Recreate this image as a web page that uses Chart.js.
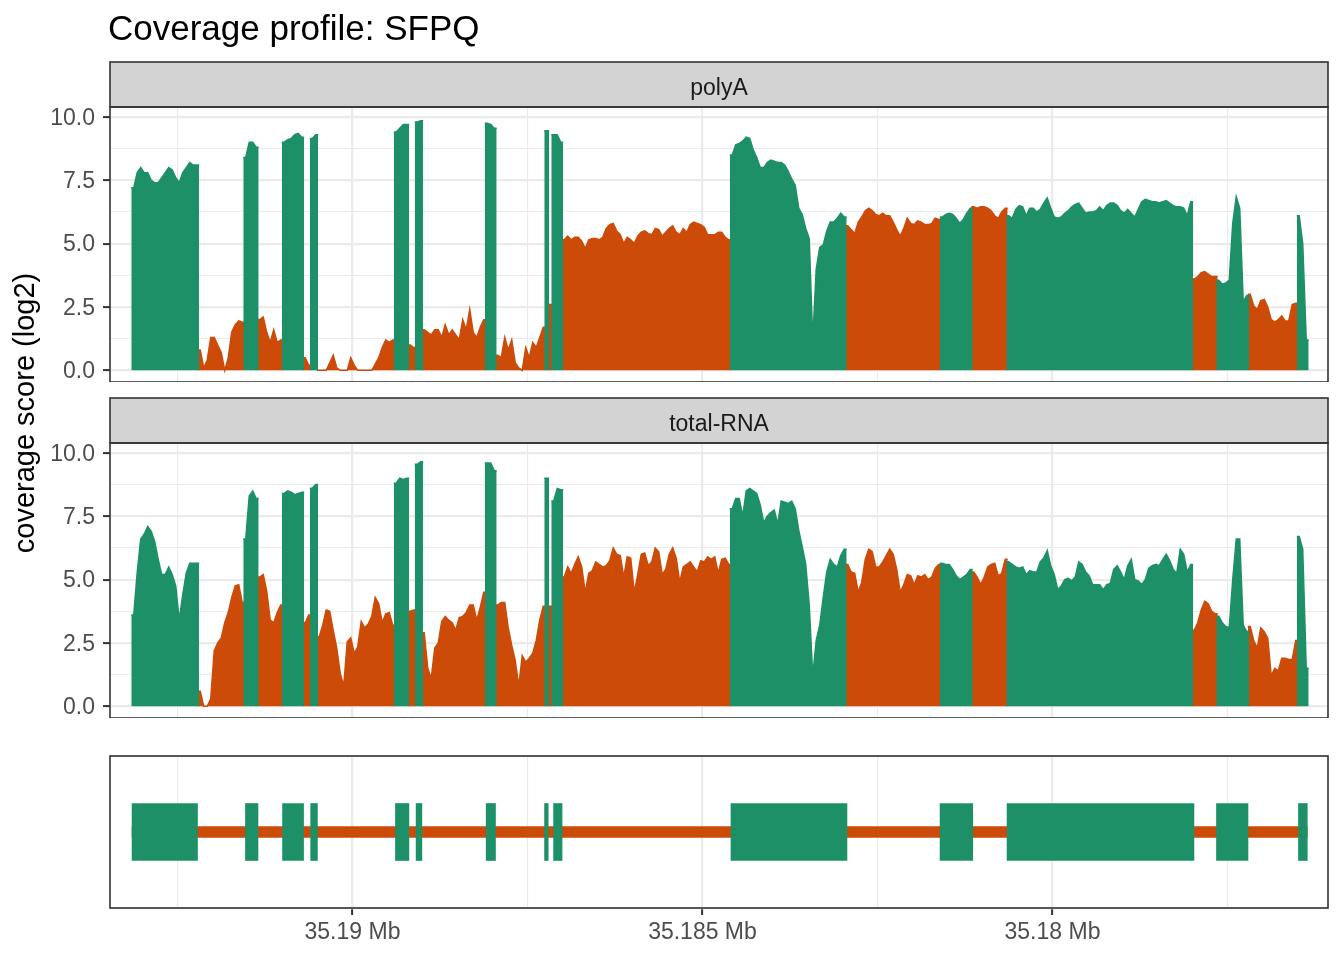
<!DOCTYPE html>
<html>
<head>
<meta charset="utf-8">
<title>Coverage profile: SFPQ</title>
<script src="https://cdn.jsdelivr.net/npm/chart.js@4.4.1/dist/chart.umd.min.js"></script>
<style>
  html, body { margin: 0; padding: 0; background: #fff; }
  #page { position: relative; width: 1344px; height: 960px; overflow: hidden; }
  #page canvas { position: absolute; left: 0; }
  #ylab {
    position: absolute; left: -175px; top: 396px; width: 400px; height: 34px;
    line-height: 34px; text-align: center; white-space: nowrap;
    font: 29px 'Liberation Sans', Arial, Helvetica, sans-serif; color: #000;
    transform: rotate(-90deg);
  }
</style>
</head>
<body>
<div id="page">
  <canvas id="ct_polyA" width="1344" height="382" style="top:0px"></canvas>
  <canvas id="ct_total" width="1344" height="336" style="top:382px"></canvas>
  <canvas id="ct_gene" width="1344" height="242" style="top:718px"></canvas>
  <div id="ylab">coverage score (log2)</div>
</div>
<script>
// coverage in fixed 50 bp bins, listed left to right as drawn (genomic position decreasing)
const binSize = 50;
const firstBinCentre = 35193125;

const polyA = [
  7.2, 7.8, 8.0, 7.8, 7.8, 7.5, 7.4, 7.4, 7.6, 7.8,
  8.0, 7.9, 7.6, 7.4, 7.8, 8.0, 8.2, 8.1, 8.1, 0.8,
  0.1, 0.4, 1.3, 1.3, 1.0, 0.7, 0.0, 0.5, 1.5, 1.8,
  1.95, 1.9, 8.4, 9.0, 9.0, 8.8, 2.0, 2.1, 1.5, 1.1,
  1.6, 1.1, 1.2, 9.0, 9.1, 9.15, 9.3, 9.35, 9.2, 0.5,
  0.2, 9.15, 9.3, 0, 0, 0, 0.3, 0.6, 0.1, 0,
  0, 0, 0.5, 0.2, 0, 0, 0, 0, 0, 0.25,
  0.5, 0.9, 1.2, 1.1, 1.2, 9.4, 9.55, 9.7, 9.7, 1.0,
  0.9, 9.8, 9.85, 1.6, 1.5, 1.4, 1.6, 1.6, 1.3, 1.8,
  1.4, 1.6, 1.4, 1.2, 2.0, 1.6, 2.4, 1.5, 1.3, 1.7,
  2.0, 9.75, 9.7, 9.55, 0.6, 0.5, 1.3, 0.8, 1.2, 0.3,
  0.1, 0, 0.9, 0.5, 1.1, 0.9, 1.3, 1.7, 9.45, 2.6,
  9.3, 9.3, 9.0, 5.15, 5.3, 5.15, 5.25, 5.25, 5.1, 4.8,
  5.15, 5.2, 5.2, 5.15, 5.25, 5.6, 5.75, 5.8, 5.5, 5.35,
  5.0, 5.25, 5.15, 5.0, 5.3, 5.45, 5.5, 5.4, 5.35, 5.6,
  5.55, 5.3, 5.45, 5.6, 5.7, 5.45, 5.35, 5.6, 5.45, 5.75,
  5.85, 5.8, 5.75, 5.65, 5.35, 5.35, 5.35, 5.45, 5.45, 5.25,
  5.15, 8.5, 8.9, 8.95, 9.05, 9.2, 9.15, 8.7, 8.4, 8.0,
  8.0, 8.2, 8.3, 8.25, 8.2, 8.2, 8.1, 7.85, 7.55, 7.3,
  6.4, 6.15, 5.6, 5.2, 1.2, 4.0, 4.85, 4.95, 5.5, 5.85,
  5.85, 6.0, 6.2, 6.05, 5.7, 5.55, 5.4, 5.85, 6.05, 6.3,
  6.4, 6.3, 6.15, 6.1, 6.2, 6.1, 6.1, 5.85, 5.55, 5.3,
  5.6, 6.0, 5.8, 5.75, 5.9, 5.85, 5.75, 5.75, 5.8, 6.0,
  5.95, 6.05, 6.15, 6.2, 6.15, 6.0, 5.8, 5.95, 6.2, 6.4,
  6.45, 6.4, 6.45, 6.45, 6.4, 6.3, 6.1, 6.0, 6.25, 6.4,
  6.1, 6.0, 6.35, 6.5, 6.45, 6.1, 6.4, 6.4, 6.25, 6.35,
  6.6, 6.8, 6.4, 6.05, 6.0, 6.05, 6.2, 6.3, 6.45, 6.55,
  6.6, 6.4, 6.2, 6.25, 6.25, 6.3, 6.45, 6.3, 6.5, 6.6,
  6.6, 6.5, 6.3, 6.2, 6.35, 6.2, 6.05, 6.35, 6.65, 6.75,
  6.7, 6.65, 6.65, 6.6, 6.65, 6.7, 6.6, 6.5, 6.45, 6.45,
  6.4, 6.1, 6.65, 3.6, 3.7, 3.85, 3.9, 3.8, 3.7, 3.7,
  3.55, 3.4, 3.45, 3.55, 5.8, 6.85, 6.4, 2.7, 2.95, 3.0,
  2.55, 2.4, 2.75, 2.8, 2.5, 2.0, 1.9, 2.0, 2.15, 1.95,
  1.95, 2.6, 2.65, 6.1, 5.0, 1.2
];

const totalRNA = [
  3.6, 5.3, 6.6, 6.8, 7.1, 6.9, 6.5, 5.8, 5.2, 5.2,
  5.5, 5.2, 4.75, 3.4, 4.4, 5.25, 5.65, 5.65, 5.65, 0.6,
  0, 0, 0.3, 2.2, 2.5, 2.7, 3.3, 3.7, 4.3, 4.75,
  4.8, 4.1, 6.6, 8.3, 8.5, 8.2, 5.1, 5.2, 4.55, 3.4,
  3.3, 3.7, 4.0, 8.4, 8.5, 8.45, 8.35, 8.4, 8.45, 3.3,
  3.6, 8.6, 8.75, 2.75, 3.2, 3.8, 3.75, 3.0, 2.3, 1.3,
  0.8, 2.55, 2.7, 2.1, 2.35, 3.35, 3.1, 3.25, 3.55, 4.3,
  4.05, 3.3, 3.65, 3.7, 3.2, 8.8, 9.0, 8.95, 9.0, 3.75,
  3.8, 9.55, 9.65, 2.9, 1.5, 1.1, 2.3, 2.5, 3.35, 3.55,
  3.4, 3.3, 3.0, 3.5, 3.55, 3.7, 4.0, 4.0, 3.4, 3.9,
  4.5, 9.6, 9.6, 9.3, 4.0, 4.1, 4.1, 3.1, 2.4, 1.8,
  0.8, 2.0, 1.75, 1.9, 2.1, 2.6, 3.4, 3.95, 9.0, 3.95,
  8.1, 8.6, 8.55, 5.1, 5.5, 5.25, 5.6, 5.9, 5.5, 4.5,
  5.25, 5.35, 5.7, 5.6, 5.5, 5.55, 5.75, 6.25, 6.0, 5.95,
  5.1, 5.9, 5.85, 4.5, 5.2, 6.0, 6.05, 5.55, 5.7, 6.25,
  6.1, 5.2, 5.4, 6.0, 6.25, 5.85, 4.9, 5.5, 5.6, 5.7,
  5.5, 5.3, 5.75, 5.7, 5.9, 5.8, 5.9, 5.25, 5.8, 5.85,
  5.6, 7.8, 8.2, 8.2, 7.5, 8.5, 8.6, 8.5, 8.4, 7.95,
  7.25, 7.5, 7.65, 7.75, 7.2, 8.1, 8.05, 8.0, 8.1, 7.8,
  6.95, 6.3, 5.6, 4.0, 1.2, 2.6, 3.2, 4.3, 5.3, 5.8,
  5.6, 5.5, 5.95, 6.2, 5.6, 5.3, 5.25, 4.5, 4.9, 5.8,
  6.2, 6.1, 5.5, 5.5, 5.7, 5.95, 6.2, 6.0, 5.4, 4.5,
  4.8, 5.2, 5.15, 4.8, 5.15, 5.1, 5.2, 5.0, 5.1, 5.45,
  5.6, 5.65, 5.6, 5.6, 5.4, 5.15, 5.0, 5.1, 5.2, 5.4,
  5.3, 5.1, 4.8, 5.1, 5.5, 5.6, 5.65, 5.15, 5.25, 5.8,
  5.7, 5.6, 5.5, 5.45, 5.5, 5.2, 5.35, 5.3, 5.3, 5.7,
  5.85, 6.15, 5.55, 5.2, 4.6, 4.75, 5.0, 5.05, 4.95, 5.1,
  5.7, 5.6, 5.3, 5.15, 4.8, 4.8, 4.8, 4.6, 4.8, 4.85,
  5.4, 5.55, 5.3, 5.0, 5.55, 5.8, 5.0, 4.95, 4.8, 5.0,
  5.45, 5.55, 5.6, 5.55, 5.8, 6.0, 5.75, 5.4, 5.25, 6.2,
  6.0, 5.3, 5.6, 3.0, 3.3, 3.8, 4.15, 4.05, 3.75, 3.65,
  3.55, 3.3, 3.15, 3.1, 5.0, 6.6, 6.6, 3.2, 2.95, 3.15,
  2.6, 2.3, 3.1, 2.95, 2.7, 1.2, 1.5, 1.4, 1.9, 1.9,
  1.85, 1.85, 2.6, 6.7, 6.2, 1.5
];

// SFPQ exons (bp), listed left to right as drawn
const exonStart = [35192214, 35191350, 35190699, 35190501, 35189194, 35189009, 35187957,
                   35187204, 35187006, 35182936, 35181139, 35177979, 35177207, 35176360];
const exonEnd   = [35193149, 35191529, 35190999, 35190597, 35189386, 35189091, 35188090,
                   35187256, 35187127, 35184593, 35181606, 35180649, 35177657, 35176486];

const xRange = [35176064, 35193464];
const xTickValues = [35190000, 35185000, 35180000];
const xTickLabels = ['35.19 Mb', '35.185 Mb', '35.18 Mb'];

const yRange = [-0.46, 10.39];
const yTickValues = [0, 2.5, 5, 7.5, 10];
const yTickLabels = ['0.0', '2.5', '5.0', '7.5', '10.0'];

const panelLabels = ['polyA', 'total-RNA'];
const plotTitle = 'Coverage profile: SFPQ';

const GREEN = '#1E9068';
const ORANGE = '#CD4B09';
const FONT = "'Liberation Sans', Arial, Helvetica, sans-serif";

function withMinors(majors, lo, hi) {
	const step = Math.abs(majors[1] - majors[0]);
	const all = new Set();
	majors.forEach(function(m){ all.add(m); all.add(m - step / 2); all.add(m + step / 2); });
	return Array.from(all).filter(v => v >= lo && v <= hi).sort((a, b) => a - b);
}
const xTicksAll = withMinors(xTickValues, xRange[0], xRange[1]);
const yTicksAll = withMinors(yTickValues, yRange[0], yRange[1]);

function inExon(pos) {
	for (let k = 0; k < exonStart.length; k++) {
		if (pos >= exonStart[k] && pos <= exonEnd[k]) return true;
	}
	return false;
}

function isMajor(list, v) {
	return list.some(m => Math.abs(m - v) < 1e-6);
}

// cut a coverage track into exon / intron runs; each run spans its bins edge to edge
// (a little extra so neighbouring runs overlap and leave no hairline)
function runsOf(values) {
	const out = [];
	values.forEach(function(v, i){
		const x = firstBinCentre - i * binSize;
		const ex = inExon(x);
		let r = out[out.length - 1];
		if (!r || r.exon !== ex) { r = {exon: ex, pts: []}; out.push(r); }
		r.pts.push({x: x, y: v});
	});
	return out;
}
function seriesFor(runs, exon) {
	const pts = [];
	const half = binSize / 2 + 10;
	runs.filter(r => r.exon === exon).forEach(function(r){
		const first = r.pts[0], last = r.pts[r.pts.length - 1];
		pts.push({x: first.x + half, y: first.y});
		r.pts.forEach(p => pts.push(p));
		pts.push({x: last.x - half, y: last.y});
		pts.push({x: last.x - half, y: null});
	});
	return pts;
}

// grey strip, panel border, y tick labels and the title
const panelPlugin = {
	id: 'panel',
	afterDraw(chart, args, opts) {
		const ctx = chart.ctx, a = chart.chartArea;
		const w = a.right - a.left;
		ctx.save();
		ctx.lineWidth = 1.6;
		ctx.strokeStyle = '#333333';
		if (opts.strip) {
			ctx.fillStyle = '#D3D3D3';
			ctx.fillRect(a.left, a.top - 45, w, 45);
			ctx.strokeRect(a.left, a.top - 45, w, 45);
			ctx.fillStyle = '#1A1A1A';
			ctx.font = '23px ' + FONT;
			ctx.textAlign = 'center';
			ctx.textBaseline = 'middle';
			ctx.fillText(opts.strip, (a.left + a.right) / 2, a.top - 18.5);
		}
		ctx.strokeRect(a.left, a.top, w, a.bottom - a.top);
		if (opts.yLabels) {
			const ys = chart.scales.y;
			ctx.fillStyle = '#4D4D4D';
			ctx.font = '23px ' + FONT;
			ctx.textAlign = 'right';
			ctx.textBaseline = 'middle';
			yTickValues.forEach(function(v, k){
				ctx.fillText(yTickLabels[k], a.left - 15, ys.getPixelForValue(v) + 1.5);
			});
		}
		if (opts.title) {
			ctx.fillStyle = '#000000';
			ctx.font = '35px ' + FONT;
			ctx.textAlign = 'left';
			ctx.textBaseline = 'alphabetic';
			ctx.fillText(opts.title, a.left - 2, a.top - 67);
		}
		ctx.restore();
	}
};

function xScale(showLabels) {
	return {
		type: 'linear',
		reverse: true,
		min: xRange[0],
		max: xRange[1],
		offset: false,
		afterBuildTicks: function(s){ s.ticks = xTicksAll.map(v => ({value: v})); },
		afterFit: function(s){ s.height = showLabels ? 52 : 0; s.paddingLeft = 0; s.paddingRight = 0; },
		border: {display: false},
		grid: {
			color: '#EBEBEB',
			lineWidth: c => (c.tick && isMajor(xTickValues, c.tick.value)) ? 2.2 : 1.1,
			drawTicks: showLabels,
			tickLength: 7,
			tickWidth: 2,
			tickColor: c => (c.tick && isMajor(xTickValues, c.tick.value)) ? '#333333' : 'rgba(0,0,0,0)'
		},
		ticks: {
			display: showLabels,
			autoSkip: false,
			maxRotation: 0,
			padding: 4,
			color: '#4D4D4D',
			font: {family: FONT, size: 23},
			callback: function(v){
				const k = xTickValues.findIndex(m => Math.abs(m - v) < 1e-6);
				return k >= 0 ? xTickLabels[k] : '';
			}
		}
	};
}

function areaSet(label, pts, color) {
	return {
		label: label,
		data: pts,
		borderColor: color,
		backgroundColor: color,
		borderWidth: 1.5,
		pointRadius: 0,
		tension: 0,
		spanGaps: false,
		fill: 'origin'
	};
}

function coverageChart(id, values, strip, title, padTop) {
	const runs = runsOf(values);
	return new Chart(document.getElementById(id), {
		type: 'line',
		data: {
			datasets: [
				areaSet('exon', seriesFor(runs, true), GREEN),
				areaSet('intron', seriesFor(runs, false), ORANGE)
			]
		},
		options: {
			responsive: false,
			animation: false,
			layout: {padding: {top: padTop, right: 16, bottom: 0, left: 0}},
			plugins: {
				legend: {display: false},
				tooltip: {enabled: false},
				panel: {strip: strip, title: title, yLabels: true}
			},
			scales: {
				x: xScale(false),
				y: {
					type: 'linear',
					min: yRange[0],
					max: yRange[1],
					afterBuildTicks: function(s){ s.ticks = yTicksAll.map(v => ({value: v})); },
					afterFit: function(s){ s.width = 110; s.paddingTop = 0; s.paddingBottom = 0; },
					border: {display: false},
					grid: {
						color: '#EBEBEB',
						lineWidth: c => (c.tick && isMajor(yTickValues, c.tick.value)) ? 2.2 : 1.1,
						drawTicks: true,
						tickLength: 7,
						tickWidth: 2,
						tickColor: c => (c.tick && isMajor(yTickValues, c.tick.value)) ? '#333333' : 'rgba(0,0,0,0)'
					},
					ticks: {display: false}
				}
			}
		},
		plugins: [panelPlugin]
	});
}

coverageChart('ct_polyA', polyA, panelLabels[0], plotTitle, 107);
coverageChart('ct_total', totalRNA, panelLabels[1], null, 61);

// gene model: exons as boxes over a thin intron line
const geneLo = Math.min.apply(null, exonStart);
const geneHi = Math.max.apply(null, exonEnd);

new Chart(document.getElementById('ct_gene'), {
	type: 'bar',
	data: {
		datasets: [{
			label: 'exon',
			data: exonStart.map((s, k) => ({x: [s, exonEnd[k]], y: 0})),
			backgroundColor: GREEN,
			barThickness: 57,
			grouped: false,
			order: 0
		}, {
			label: 'intron',
			data: [{x: [geneLo, geneHi], y: 0}],
			backgroundColor: ORANGE,
			barThickness: 11,
			grouped: false,
			order: 1
		}]
	},
	options: {
		indexAxis: 'y',
		responsive: false,
		animation: false,
		layout: {padding: {top: 38, right: 16, bottom: 0, left: 0}},
		plugins: {
			legend: {display: false},
			tooltip: {enabled: false},
			panel: {}
		},
		scales: {
			x: xScale(true),
			y: {
				type: 'linear',
				min: -1,
				max: 1,
				offset: false,
				afterBuildTicks: function(s){ s.ticks = [{value: 0}]; },
				afterFit: function(s){ s.width = 110; s.paddingTop = 0; s.paddingBottom = 0; },
				border: {display: false},
				grid: {color: '#EBEBEB', lineWidth: 2.2, drawTicks: false},
				ticks: {display: false}
			}
		}
	},
	plugins: [panelPlugin]
});
</script>
</body>
</html>
